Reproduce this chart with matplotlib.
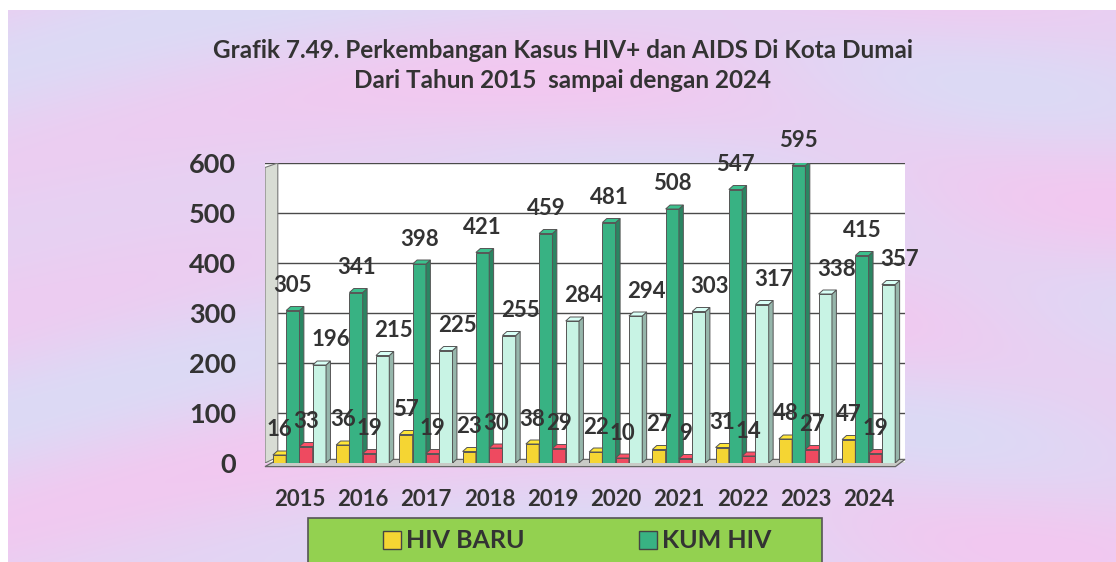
import numpy as np
import matplotlib.pyplot as plt
from matplotlib.patches import Polygon, Rectangle, Patch
from matplotlib.colors import to_rgb

plt.rcParams['font.family'] = ['Lato', 'DejaVu Sans']
plt.rcParams['font.weight'] = 'bold'

# data
years = ['2015', '2016', '2017', '2018', '2019', '2020', '2021', '2022', '2023', '2024']
hiv_baru = [16, 36, 57, 23, 38, 22, 27, 31, 48, 47]
kum_hiv = [305, 341, 398, 421, 459, 481, 508, 547, 595, 415]
aids_baru = [33, 19, 19, 30, 29, 10, 9, 14, 27, 19]
kum_aids = [196, 215, 225, 255, 284, 294, 303, 317, 338, 357]

series = [hiv_baru, kum_hiv, aids_baru, kum_aids]
colors = ['#f5d533', '#38b283', '#ee4a60', '#c8f3e4']
offsets = [-0.32, -0.11, 0.10, 0.31]
label_dx = [0, 0, 0, 8]

W, H = 1116, 562
fig = plt.figure(figsize=(W / 100, H / 100), dpi=100)
fig.patch.set_facecolor('white')

# background: pink / lavender streaks, white margin at top and left
bg = fig.add_axes([8 / W, 0, 1 - 8 / W, 1 - 10 / H], zorder=-5)
yy, xx = np.mgrid[0:1:300j, 0:1:500j]
pink = np.array(to_rgb('#f2c8f0'))
lav = np.array(to_rgb('#dcdaf5'))
t = 0.5 + 0.25 * np.sin(19 * yy + 2.5 * np.sin(4 * xx)) + 0.25 * np.sin(7 * xx + 11 * yy)
t = np.clip(t, 0, 1)[..., None]
img = pink * (1 - t) + lav * t
bg.imshow(img, aspect='auto', extent=[0, 1, 0, 1], origin='upper')
bg.axis('off')

fig.text(563 / W, 1 - 50 / H, 'Grafik 7.49. Perkembangan Kasus HIV+ dan AIDS Di Kota Dumai',
         ha='center', va='center', fontsize=17.5, color='#333333')
fig.text(563 / W, 1 - 81 / H, 'Dari Tahun 2015  sampai dengan 2024',
         ha='center', va='center', fontsize=17.5, color='#333333')

ax = fig.add_axes([265 / W, 1 - 463 / H, (905 - 265) / W, 300 / H])
ax.set_facecolor('white')
ax.set_xlim(-0.55, 9.57)
ax.set_ylim(0, 600)
ax.set_yticks(range(0, 601, 100))
ax.yaxis.grid(True, color='#4a4a4a', lw=1)
ax.set_axisbelow(True)
for sp in ax.spines.values():
    sp.set_visible(False)
ax.set_xticks(range(len(years)))
ax.set_xticklabels(years, fontsize=16, color='#333333')
ax.tick_params(axis='x', length=0, pad=19)
ax.tick_params(axis='y', length=0, pad=21, labelsize=19.5, labelcolor='#333333')

# left wall and floor
ax.add_patch(Polygon([(0, 0), (0.02, 0.02), (0.02, 1.0), (0, 0.985)],
                     closed=True, transform=ax.transAxes, facecolor='#d8dcd4',
                     edgecolor='#777777', lw=0.8, zorder=1))
ax.add_patch(Polygon([(0, -0.012), (0.985, -0.012), (1.0, 0.012), (0.02, 0.012)],
                     closed=True, transform=ax.transAxes, facecolor='#c9cbc7',
                     edgecolor='#666666', lw=0.9, zorder=1, clip_on=False))

w = 0.21
dx, dy = 0.07, 8


def shade(c, f):
    return tuple(np.clip(np.array(to_rgb(c)) * f, 0, 1))


x = np.arange(len(years))
for k, (vals, c) in enumerate(zip(series, colors)):
    for i, v in enumerate(vals):
        x0 = x[i] + offsets[k] - w / 2
        z = 3 + i * 0.1 + k * 0.01
        ax.add_patch(Rectangle((x0, 0), w, v, facecolor=c, edgecolor='#555555',
                               lw=0.7, zorder=z))
        ax.add_patch(Polygon([(x0 + w, 0), (x0 + w + dx, dy), (x0 + w + dx, v + dy), (x0 + w, v)],
                             closed=True, facecolor=shade(c, 0.75), edgecolor='#555555',
                             lw=0.7, zorder=z))
        ax.add_patch(Polygon([(x0, v), (x0 + w, v), (x0 + w + dx, v + dy), (x0 + dx, v + dy)],
                             closed=True, facecolor=shade(c, 1.08), edgecolor='#555555',
                             lw=0.7, zorder=z))
        ax.annotate(str(v), (x[i] + offsets[k], v), xytext=(label_dx[k], 18),
                    textcoords='offset points', ha='center', va='center',
                    fontsize=16, color='#333333', zorder=20, annotation_clip=False)

# legend box
fig.patches.append(Rectangle((308 / W, -0.02), (822 - 308) / W, (562 - 518) / H + 0.02,
                             transform=fig.transFigure, facecolor='#93d150',
                             edgecolor='#555555', lw=1.2, zorder=0))
handles = [Patch(facecolor=colors[0], edgecolor='#444444'),
           Patch(facecolor=colors[1], edgecolor='#444444')]
fig.legend(handles, ['HIV BARU', 'KUM HIV'], loc='center', ncol=2,
           bbox_to_anchor=(577 / W, 1 - 541 / H), frameon=False, fontsize=18,
           handlelength=0.7, handleheight=0.7, handletextpad=0.2, columnspacing=4.6,
           labelcolor='#333333')

fig.savefig('out.png', dpi=100)
